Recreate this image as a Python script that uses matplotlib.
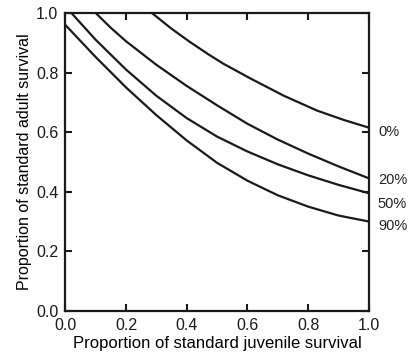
import matplotlib.pyplot as plt

# curves (x = juvenile survival, y = adult survival)
x_0 = [0.285, 0.35, 0.41, 0.47, 0.52, 0.61, 0.72, 0.83, 0.92, 1.0]
y_0 = [1.0, 0.947, 0.903, 0.862, 0.83, 0.78, 0.722, 0.672, 0.64, 0.615]

x_20 = [0.10, 0.15, 0.2, 0.3, 0.4, 0.5, 0.6, 0.7, 0.8, 0.9, 1.0]
y_20 = [1.0, 0.95, 0.905, 0.826, 0.755, 0.69, 0.628, 0.575, 0.528, 0.485, 0.445]

x_50 = [0.02, 0.1, 0.2, 0.3, 0.4, 0.5, 0.6, 0.7, 0.8, 0.9, 1.0]
y_50 = [1.0, 0.91, 0.81, 0.722, 0.647, 0.585, 0.535, 0.492, 0.455, 0.423, 0.395]

x_90 = [0.0, 0.1, 0.2, 0.3, 0.4, 0.5, 0.6, 0.7, 0.8, 0.9, 1.0]
y_90 = [0.96, 0.852, 0.75, 0.657, 0.572, 0.497, 0.437, 0.388, 0.35, 0.32, 0.30]

curve_labels = ["0%", "20%", "50%", "90%"]
label_y = [0.60, 0.44, 0.36, 0.285]

plt.rcParams["font.family"] = ["Liberation Sans", "DejaVu Sans"]

fig = plt.figure(figsize=(4.08, 3.59), dpi=100)
ax = fig.add_axes([0.160, 0.134, 0.744, 0.830])

for xs, ys in [(x_0, y_0), (x_20, y_20), (x_50, y_50), (x_90, y_90)]:
    ax.plot(xs, ys, color="#1a1a1a", lw=1.6, solid_joinstyle="round")

for lab, ly in zip(curve_labels, label_y):
    ax.text(1.03, ly, lab, fontsize=10.5, color="#222222", va="center", ha="left",
            clip_on=False)

ax.set_xlim(0, 1)
ax.set_ylim(0, 1)
ticks = [0.0, 0.2, 0.4, 0.6, 0.8, 1.0]
ax.set_xticks(ticks)
ax.set_yticks(ticks)
ax.set_xticklabels(["%.1f" % t for t in ticks])
ax.set_yticklabels(["%.1f" % t for t in ticks])
ax.tick_params(direction="in", length=5, width=1.5, top=True, right=True,
               labelsize=11.5, colors="#1a1a1a")
ax.tick_params(axis="x", pad=5)
ax.tick_params(axis="y", pad=5)
for s in ax.spines.values():
    s.set_linewidth(1.6)
    s.set_color("#1a1a1a")

ax.set_xlabel("Proportion of standard juvenile survival", fontsize=12, labelpad=2)
ax.set_ylabel("Proportion of standard adult survival", fontsize=11.5, labelpad=3)

fig.savefig("out.png", dpi=100)
